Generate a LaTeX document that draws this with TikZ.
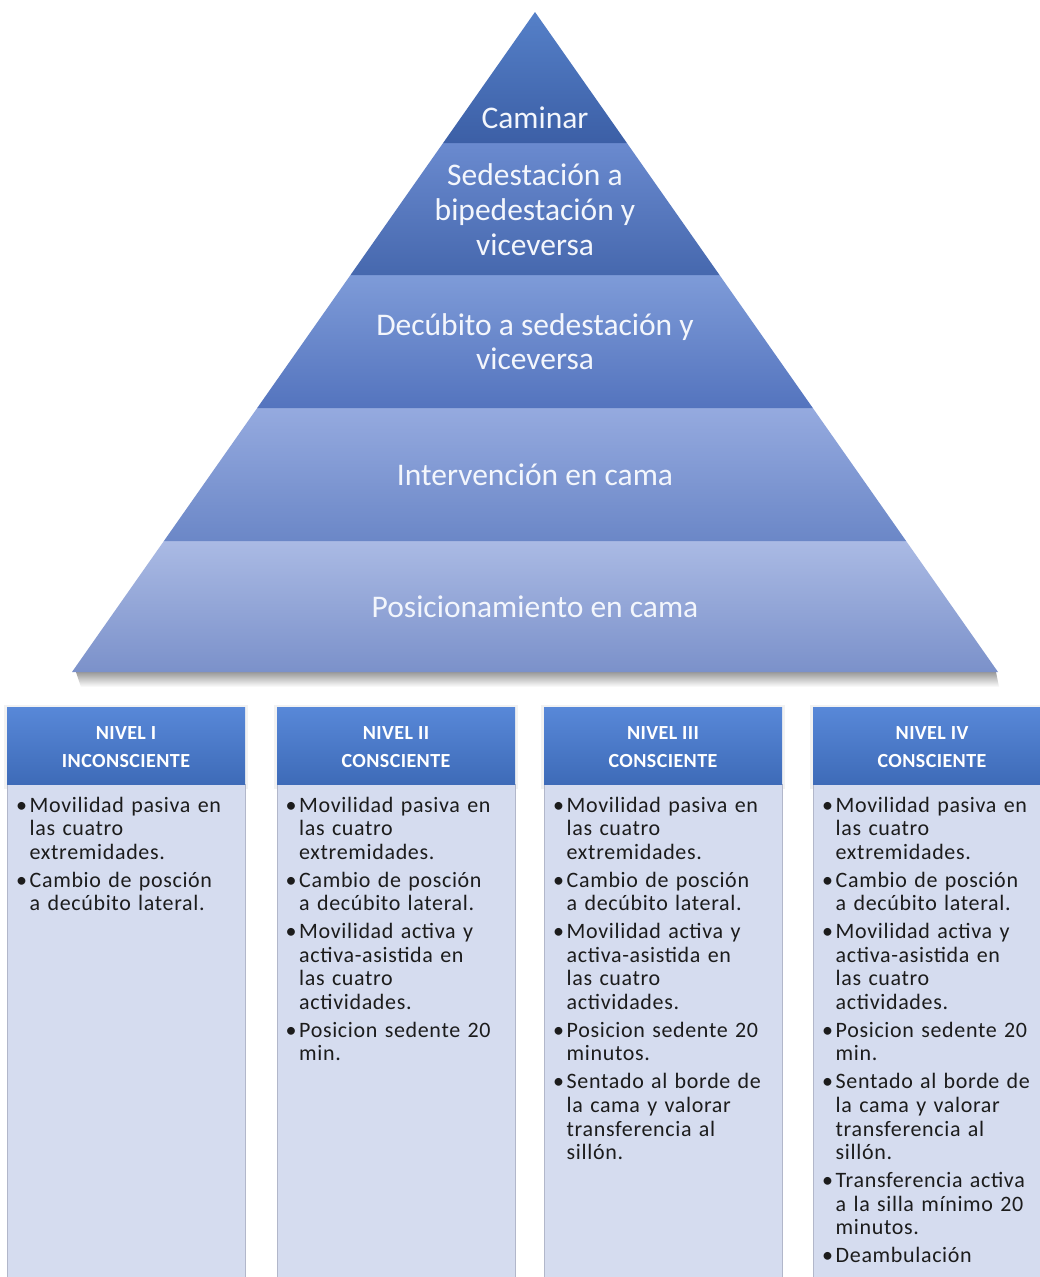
\documentclass[tikz,border=0pt]{standalone}
\usepackage{fontspec}
\setmainfont{Carlito}
\newfontfamily\boxfont[LetterSpace=3]{Carlito}
\newfontfamily\headfont[LetterSpace=2]{Carlito}
\definecolor{aTop}{HTML}{5580C8}
\definecolor{aBot}{HTML}{3C5FA6}
\definecolor{bTop}{HTML}{6A8ACF}
\definecolor{bBot}{HTML}{4668AE}
\definecolor{cTop}{HTML}{7E9BD8}
\definecolor{cBot}{HTML}{5474BE}
\definecolor{dTop}{HTML}{95AADF}
\definecolor{dBot}{HTML}{6B87C7}
\definecolor{eTop}{HTML}{AABAE4}
\definecolor{eBot}{HTML}{7B91CA}
\definecolor{hdTop}{HTML}{5888D8}
\definecolor{hdBot}{HTML}{3E6BB8}
\definecolor{bodyFill}{HTML}{D5DCEF}
\definecolor{bodyLine}{HTML}{B2B7CA}
\definecolor{pyrText}{HTML}{F3F6FC}
\definecolor{txt}{HTML}{1C1C1C}
\newcommand\itemset{\fontsize{22}{23.6}\selectfont\parskip=4.3pt\relax}
\newcommand\bitem[1]{\hangindent=15pt\hangafter=1 \makebox[15pt][l]{\hspace{1.5pt}•}#1\par}
\tikzset{
  pyrlabel/.style={inner sep=0pt, anchor=base, text=pyrText, font=\fontsize{31.5}{35}\selectfont},
  headbox/.style={rectangle, inner sep=0pt, minimum width=238pt, minimum height=77pt, top color=hdTop, bottom color=hdBot, draw=none},
  bodybox/.style={rectangle, inner sep=0pt, minimum width=238pt, minimum height=510pt, fill=bodyFill, draw=bodyLine, line width=0.8pt, anchor=north},
  headtext/.style={inner sep=0pt, anchor=base, text=white, font=\headfont\bfseries\fontsize{20}{24}\selectfont},
  itemtext/.style={inner sep=0pt, anchor=base west, text width=300pt, text=txt, font=\boxfont\fontsize{22}{23.6}\selectfont},
  halo/.style={fill=black, opacity=0.05}
}
\begin{document}
\begin{tikzpicture}[x=1pt,y=-1pt]
\useasboundingbox (0,0) rectangle (1039,1277);
\fill[white] (0,0) rectangle (1039,1277);

% pyramid shadow
\shade[top color=black!40, bottom color=white] (76,672) -- (996,672) -- (999,687) -- (81,687) -- cycle;

% pyramid bands
\shade[top color=eTop, bottom color=eBot] (163.9,541) -- (906.1,541) -- (998,672) -- (72,672) -- cycle;
\shade[top color=dTop, bottom color=dBot] (257.2,408) -- (812.8,408) -- (906.1,541) -- (163.9,541) -- cycle;
\shade[top color=cTop, bottom color=cBot] (350.5,275) -- (719.5,275) -- (812.8,408) -- (257.2,408) -- cycle;
\shade[top color=bTop, bottom color=bBot] (443.1,143) -- (626.9,143) -- (719.5,275) -- (350.5,275) -- cycle;
\shade[top color=aTop, bottom color=aBot] (535,12) -- (626.9,143) -- (443.1,143) -- cycle;

% pyramid labels
\node[pyrlabel] (p1) at (535,128) {Caminar};
\node[pyrlabel] (p2a) at (535,185) {Sedestación a};
\node[pyrlabel] (p2b) at (535,220) {bipedestación y};
\node[pyrlabel] (p2c) at (535,255) {viceversa};
\node[pyrlabel] (p3a) at (535,335) {Decúbito a sedestación y};
\node[pyrlabel] (p3b) at (535,369) {viceversa};
\node[pyrlabel] (p4) at (535,485) {Intervención en cama};
\node[pyrlabel] (p5) at (535,617) {Posicionamiento en cama};

% level boxes
\foreach \xl/\nm in {7/1,277/2,544/3,813/4}{
  \fill[halo] (\xl-3,705) rectangle (\xl+241,789);
  \node[bodybox] (b\nm) at (\xl+119,784) {};
  \node[headbox] (h\nm) at (\xl+119,745.5) {};
}

\node[headtext] (h1a) at (126,739) {NIVEL I};
\node[headtext] (h1b) at (126,767) {INCONSCIENTE};
\node[headtext] (h2a) at (396,739) {NIVEL II};
\node[headtext] (h2b) at (396,767) {CONSCIENTE};
\node[headtext] (h3a) at (663,739) {NIVEL III};
\node[headtext] (h3b) at (663,767) {CONSCIENTE};
\node[headtext] (h4a) at (932,739) {NIVEL IV};
\node[headtext] (h4b) at (932,767) {CONSCIENTE};

\node[itemtext] (t1) at (14.5,812) {\itemset
\bitem{Movilidad pasiva en\newline las cuatro\newline extremidades.}
\bitem{Cambio de posción\newline a decúbito lateral.}};

\node[itemtext] (t2) at (284,812) {\itemset
\bitem{Movilidad pasiva en\newline las cuatro\newline extremidades.}
\bitem{Cambio de posción\newline a decúbito lateral.}
\bitem{Movilidad activa y\newline activa-asistida en\newline las cuatro\newline actividades.}
\bitem{Posicion sedente 20\newline min.}};

\node[itemtext] (t3) at (551.5,812) {\itemset
\bitem{Movilidad pasiva en\newline las cuatro\newline extremidades.}
\bitem{Cambio de posción\newline a decúbito lateral.}
\bitem{Movilidad activa y\newline activa-asistida en\newline las cuatro\newline actividades.}
\bitem{Posicion sedente 20\newline minutos.}
\bitem{Sentado al borde de\newline la cama y valorar\newline transferencia al\newline sillón.}};

\node[itemtext] (t4) at (820.5,812) {\itemset
\bitem{Movilidad pasiva en\newline las cuatro\newline extremidades.}
\bitem{Cambio de posción\newline a decúbito lateral.}
\bitem{Movilidad activa y\newline activa-asistida en\newline las cuatro\newline actividades.}
\bitem{Posicion sedente 20\newline min.}
\bitem{Sentado al borde de\newline la cama y valorar\newline transferencia al\newline sillón.}
\bitem{Transferencia activa\newline a la silla mínimo 20\newline minutos.}
\bitem{Deambulación}};
\end{tikzpicture}
\end{document}
